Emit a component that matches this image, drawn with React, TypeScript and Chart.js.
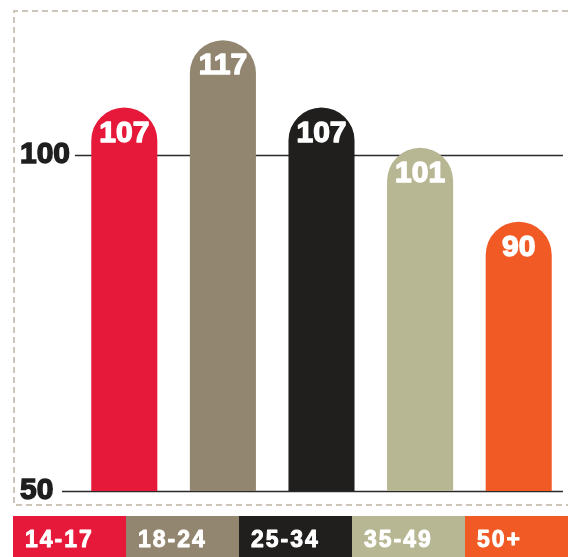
import React, { useEffect, useRef } from 'react';
import { Chart, registerables } from 'chart.js';

Chart.register(...registerables);

const categories = ['14-17', '18-24', '25-34', '35-49', '50+'];
const values = [107, 117, 107, 101, 90];
const colors = ['#e6193b', '#938671', '#201f1d', '#b7b794', '#f15a25'];
const yTicks = [50, 100];
const yMin = 50;
const yMax = 120;

const FONT = '"Liberation Sans", Arial, Helvetica, sans-serif';

const decor = {
  id: 'decor',
  beforeDraw(chart: any) {
    const ctx = chart.ctx;
    ctx.save();
    ctx.strokeStyle = '#cdc4ba';
    ctx.lineWidth = 2;
    ctx.setLineDash([6, 4]);
    ctx.beginPath();
    ctx.moveTo(chart.width + 10, 11);
    ctx.lineTo(14, 11);
    ctx.lineTo(14, 505);
    ctx.lineTo(chart.width + 10, 505);
    ctx.stroke();
    ctx.restore();
  },
  beforeDatasetsDraw(chart: any) {
    const ctx = chart.ctx;
    const y = chart.scales.y;
    const a = chart.chartArea;
    ctx.save();
    ctx.strokeStyle = '#2a2a2a';
    ctx.lineWidth = 1.5;
    yTicks.forEach((v) => {
      const py = Math.round(y.getPixelForValue(v)) + 0.5;
      const sx = v === yMin ? a.left - 13 : a.left;
      ctx.beginPath();
      ctx.moveTo(sx, py);
      ctx.lineTo(a.right - 5, py);
      ctx.stroke();
    });
    ctx.restore();
  },
  afterDatasetsDraw(chart: any) {
    const ctx = chart.ctx;
    const meta = chart.getDatasetMeta(0);
    ctx.save();
    ctx.fillStyle = '#ffffff';
    ctx.strokeStyle = '#ffffff';
    ctx.lineWidth = 1.4;
    ctx.lineJoin = 'round';
    ctx.textAlign = 'center';
    ctx.textBaseline = 'middle';
    ctx.font = `bold 30px ${FONT}`;
    meta.data.forEach((bar: any, i: number) => {
      ctx.fillText(String(values[i]), bar.x, bar.y + 26);
      ctx.strokeText(String(values[i]), bar.x, bar.y + 26);
    });
    // legend strip
    const segW = 113;
    const x0 = 13;
    const top = 516;
    categories.forEach((c, i) => {
      const x = x0 + i * segW;
      const w = i === categories.length - 1 ? chart.width - x : segW;
      ctx.fillStyle = colors[i];
      ctx.fillRect(x, top, w, chart.height - top);
      ctx.fillStyle = '#ffffff';
      ctx.strokeStyle = '#ffffff';
      ctx.lineWidth = 0.9;
      ctx.textAlign = 'left';
      ctx.textBaseline = 'middle';
      ctx.font = `bold 23px ${FONT}`;
      (ctx as any).letterSpacing = '2px';
      ctx.fillText(c, x + 12, 541);
      ctx.strokeText(c, x + 12, 541);
      (ctx as any).letterSpacing = '0px';
    });
    ctx.restore();
  },
};

export default function App() {
  const ref = useRef<HTMLCanvasElement | null>(null);
  useEffect(() => {
    if (!ref.current) return;
    const chart = new Chart(ref.current, {
      type: 'bar',
      data: {
        labels: categories,
        datasets: [
          {
            data: values,
            backgroundColor: colors,
            barPercentage: 0.67,
            categoryPercentage: 1,
            borderRadius: { topLeft: 40, topRight: 40, bottomLeft: 0, bottomRight: 0 },
            borderSkipped: 'bottom',
          },
        ],
      },
      options: {
        responsive: false,
        animation: false,
        devicePixelRatio: 1,
        layout: { padding: { left: 20, right: 0, top: 20, bottom: 66 } },
        plugins: { legend: { display: false }, tooltip: { enabled: false }, title: { display: false } },
        scales: {
          x: { display: false },
          y: {
            min: yMin,
            max: yMax,
            position: 'left',
            afterFit(scale: any) {
              scale.width = 55;
            },
            afterBuildTicks(scale: any) {
              scale.ticks = yTicks.map((v) => ({ value: v }));
            },
            ticks: {
              crossAlign: 'far',
              padding: 0,
              color: '#1e1e1e',
              textStrokeColor: '#1e1e1e',
              textStrokeWidth: 1.4,
              font: { family: FONT, size: 30, weight: 'bold' },
            },
            grid: { display: false },
            border: { display: false },
          },
        },
      },
      plugins: [decor],
    } as any);
    return () => chart.destroy();
  }, []);
  return (
    <div style={{ position: 'absolute', left: 0, top: 0, width: 568, height: 557 }}>
      <canvas ref={ref} width={568} height={557} />
    </div>
  );
}
